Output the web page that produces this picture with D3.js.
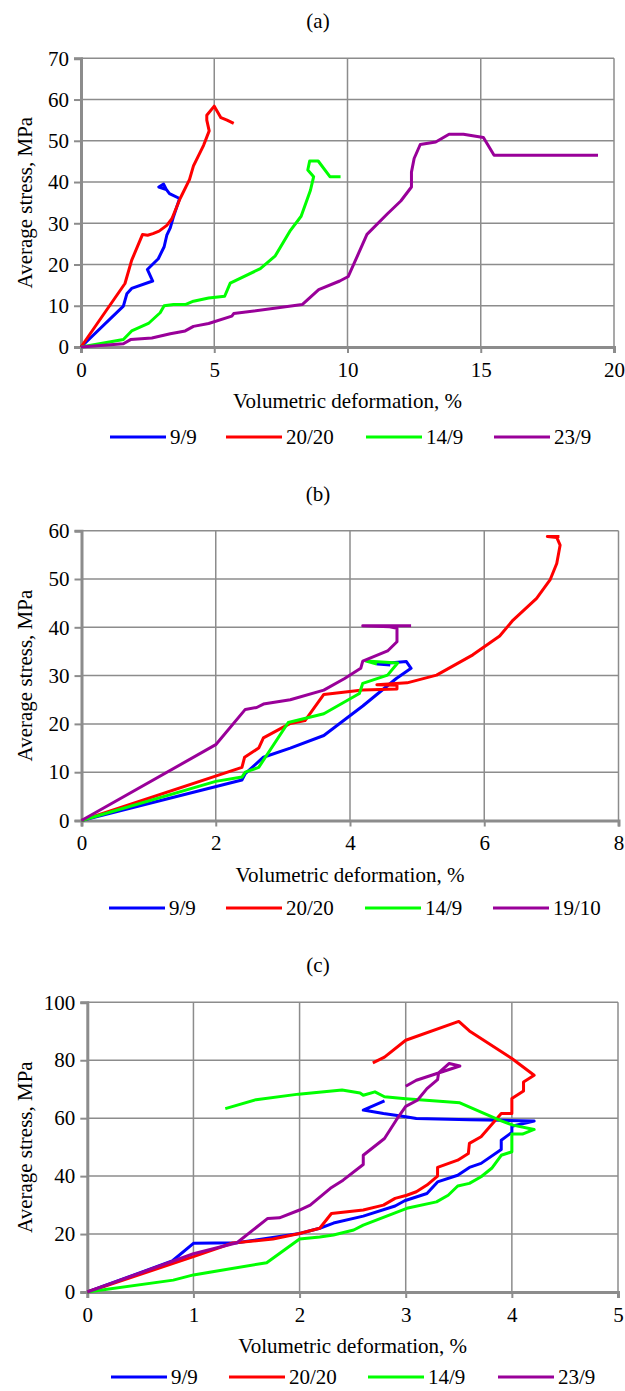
<!DOCTYPE html>
<html>
<head>
<meta charset="utf-8">
<script src="https://cdn.jsdelivr.net/npm/d3@7"></script>
<style>
  body { margin: 0; background: #fff; }
  text { font-family: "Liberation Serif", "Times New Roman", "DejaVu Serif", serif; fill: #000; }
</style>
</head>
<body>
<div id="chart"></div>
<script>
// Legend names and colours
var namesA = ["9/9", "20/20", "14/9", "23/9"];
var namesB = ["9/9", "20/20", "14/9", "19/10"];
var namesC = ["9/9", "20/20", "14/9", "23/9"];
var colors = ["#0000ff", "#ff0000", "#00ff00", "#990099"];

// Tick values
var xTicksA = [0, 5, 10, 15, 20];
var yTicksA = [0, 10, 20, 30, 40, 50, 60, 70];
var xTicksB = [0, 2, 4, 6, 8];
var yTicksB = [0, 10, 20, 30, 40, 50, 60];
var xTicksC = [0, 1, 2, 3, 4, 5];
var yTicksC = [0, 20, 40, 60, 80, 100];

// Panel (a): [volumetric deformation %, average stress MPa]
var a_9_9 = [[0,0],[1.59,9.9],[1.72,12.9],[1.9,14.2],[2.69,16],[2.49,18.8],[2.9,21.4],[3.12,24.3],[3.22,27.1],[3.35,28.9],[3.47,31.6],[3.7,36],[3.32,37.2],[3.2,38.2],[3.1,39.5],[2.92,38.8],[3.2,38.2]];
var a_20_20 = [[0,0],[1.65,15.4],[1.9,21],[2.31,27.3],[2.5,27.1],[2.7,27.5],[2.93,28.1],[3.22,29.5],[3.41,31.1],[3.72,36],[4.07,40.6],[4.22,43.9],[4.6,48.9],[4.81,52.4],[4.72,55],[4.72,56.2],[5.0,58.4],[5.25,55.6],[5.48,55],[5.73,54.2]];
var a_14_9 = [[0,0],[1.59,1.8],[1.9,3.9],[2.53,5.7],[2.97,8.3],[3.12,10],[3.47,10.3],[3.91,10.3],[4.22,11.1],[4.79,11.9],[5.39,12.3],[5.6,15.5],[6.73,19],[7.29,22.1],[7.86,28.3],[8.26,31.7],[8.61,38],[8.73,41.3],[8.51,42.9],[8.58,45.1],[8.9,45.1],[9.34,41.3],[9.74,41.3]];
var a_23_9 = [[0,0],[1.59,0.8],[1.86,1.8],[2.66,2.2],[3.35,3.2],[3.91,3.9],[4.22,5],[4.79,5.7],[5.66,7.5],[5.73,8.1],[8.3,10.3],[8.92,13.9],[9.71,16],[10.03,17.1],[10.73,27.3],[11.5,32.3],[12.0,35.4],[12.4,38.8],[12.4,42.4],[12.5,45.7],[12.73,49.1],[13.31,49.7],[13.81,51.6],[14.35,51.6],[15.1,50.8],[15.5,46.5],[19.4,46.5]];

// Panel (b)
var b_9_9 = [[0,0],[2.39,8.4],[2.44,9.7],[2.71,13.1],[3.11,15],[3.61,17.6],[4.19,23.7],[4.69,29.4],[4.91,31.5],[4.84,32.9],[4.41,32.4],[4.6,32.2]];
var b_20_20 = [[0,0],[2.39,11],[2.43,13.1],[2.64,15],[2.71,17.1],[3.11,20.1],[3.33,20.7],[3.61,26.1],[4.19,27],[4.7,27.2],[4.7,28],[4.4,28.1],[4.85,28.5],[5.29,30.1],[5.83,34.3],[6.23,38.2],[6.43,41.5],[6.78,46],[6.98,49.8],[7.08,53.2],[7.13,57],[7.08,58.6],[6.94,58.8],[7.12,58.8]];
var b_14_9 = [[0,0],[2.0,8.1],[2.39,9],[2.44,10],[2.64,11],[3.08,20.3],[3.61,22.1],[4.14,26.3],[4.19,28.4],[4.56,30.1],[4.71,32.6],[4.24,33],[4.4,32.4]];
var b_19_10 = [[0,0],[2.0,15.7],[2.44,23],[2.61,23.4],[2.71,24.1],[3.11,25],[3.61,27],[3.92,29.4],[4.16,31.5],[4.19,33],[4.56,35.1],[4.7,37],[4.7,39.8],[4.59,40.1],[4.19,40.3],[4.91,40.3]];

// Panel (c)
var c_9_9 = [[0,0],[0.8,10.7],[1.0,16.8],[1.41,17],[2.0,20.2],[2.19,22],[2.32,23.8],[2.6,26.2],[2.9,29.7],[2.99,31.5],[3.2,34],[3.3,38],[3.49,40.3],[3.6,43],[3.71,44.4],[3.9,49.2],[3.9,52.4],[4.0,55.1],[4.0,57.2],[4.21,59.0],[3.9,59.3],[3.6,59.5],[3.1,59.9],[3.0,60.5],[2.79,61.6],[2.6,62.8],[2.8,66]];
var c_20_20 = [[0,0],[1.0,12.2],[1.37,16.9],[1.75,18.3],[2.0,20.2],[2.19,22],[2.3,27.1],[2.6,28.3],[2.79,30],[2.9,32.3],[3.01,33.4],[3.1,34.6],[3.2,36.9],[3.3,40],[3.3,43],[3.49,45.5],[3.59,47.8],[3.6,51.3],[3.71,53.6],[3.9,61.6],[4.0,61.6],[4.0,66.8],[4.11,69.4],[4.11,72.5],[4.21,74.8],[4.0,80.6],[3.6,90.1],[3.5,93.4],[3.0,86.9],[2.8,81.1],[2.69,79.1]];
var c_14_9 = [[0,0],[0.81,4.1],[1.0,5.9],[1.69,10.1],[2.0,18.3],[2.19,19],[2.32,19.7],[2.51,21.4],[2.6,23.1],[2.9,27.3],[3.01,28.9],[3.29,31.1],[3.4,33.4],[3.49,36.6],[3.6,37.5],[3.71,39.8],[3.81,42.7],[3.9,47.2],[4.0,48.4],[4.0,54.5],[4.1,54.5],[4.21,56.1],[4.01,57.6],[3.9,59.1],[3.51,65.3],[3.0,66.7],[2.8,67.4],[2.71,69.1],[2.6,67.9],[2.57,68.7],[2.4,69.7],[1.99,68.3],[1.59,66.4],[1.3,63.3]];
var c_23_9 = [[0,0],[1.0,13.2],[1.41,17],[1.7,25.4],[1.81,25.6],[2.0,28.3],[2.1,30],[2.29,35.8],[2.41,38.6],[2.6,44],[2.6,47.2],[2.8,53],[2.91,59.3],[3.0,64.1],[3.11,66.2],[3.2,70.2],[3.3,73.3],[3.31,75.6],[3.41,78.9],[3.51,78],[3.1,73.1],[3.0,71]];

var W = 625, H = 1391;
var svg = d3.select("#chart").append("svg")
  .attr("width", W)
  .attr("height", H);

var panels = [
  {label: "(a)", left: 81, right: 614, top: 58.3, bottom: 347,
   xMax: 20, yMax: 70, xTicks: xTicksA, yTicks: yTicksA,
   series: [a_9_9, a_20_20, a_14_9, a_23_9], names: namesA,
   legendX: [110, 226, 366, 494], legendY: 437},
  {label: "(b)", left: 81.5, right: 618.5, top: 530.7, bottom: 820.5,
   xMax: 8, yMax: 60, xTicks: xTicksB, yTicks: yTicksB,
   series: [b_9_9, b_20_20, b_14_9, b_19_10], names: namesB,
   legendX: [109, 226, 365, 493], legendY: 908},
  {label: "(c)", left: 87.3, right: 618, top: 1002.3, bottom: 1292,
   xMax: 5, yMax: 100, xTicks: xTicksC, yTicks: yTicksC,
   series: [c_9_9, c_20_20, c_14_9, c_23_9], names: namesC,
   legendX: [111, 229, 368, 498], legendY: 1377}
];

panels.forEach(function(p) {
  var x = d3.scaleLinear().domain([0, p.xMax]).range([p.left, p.right]);
  var y = d3.scaleLinear().domain([0, p.yMax]).range([p.bottom, p.top]);
  var g = svg.append("g");

  // panel letter
  g.append("text")
    .attr("x", 318)
    .attr("y", p.top - 30)
    .attr("text-anchor", "middle")
    .attr("font-size", "21px")
    .text(p.label);

  // grid
  g.selectAll(".hgrid").data(p.yTicks.slice(1)).enter().append("line")
    .attr("x1", p.left).attr("x2", p.right)
    .attr("y1", d => y(d)).attr("y2", d => y(d))
    .attr("stroke", "#8c8c8c").attr("stroke-width", 1.5);
  g.selectAll(".vgrid").data(p.xTicks.slice(1)).enter().append("line")
    .attr("x1", d => x(d)).attr("x2", d => x(d))
    .attr("y1", p.top).attr("y2", p.bottom)
    .attr("stroke", "#8c8c8c").attr("stroke-width", 1.5);

  // axes
  var yAxis = d3.axisLeft(y).tickValues(p.yTicks).tickSize(7).tickPadding(5)
    .tickFormat(d3.format("d"));
  var xAxis = d3.axisBottom(x).tickValues(p.xTicks).tickSize(6).tickPadding(9)
    .tickFormat(d3.format("d"));

  var ya = g.append("g").attr("transform", `translate(${p.left},0)`).call(yAxis);
  var xa = g.append("g").attr("transform", `translate(0,${p.bottom})`).call(xAxis);
  [ya, xa].forEach(function(a) {
    a.attr("font-family", null);
    a.select(".domain").attr("stroke", "#8c8c8c").attr("stroke-width", 3);
    a.selectAll(".tick line").attr("stroke", "#8c8c8c").attr("stroke-width", 2);
    a.selectAll(".tick text")
      .attr("font-size", "21px")
      .attr("fill", "#000");
  });

  // data lines
  var line = d3.line().x(d => x(d[0])).y(d => y(d[1]));
  p.series.forEach(function(s, i) {
    g.append("path")
      .datum(s)
      .attr("d", line)
      .attr("fill", "none")
      .attr("stroke", colors[i])
      .attr("stroke-width", 3)
      .attr("stroke-linejoin", "round");
  });

  // axis titles
  g.append("text")
    .attr("x", (p.left + p.right) / 2)
    .attr("y", p.bottom + 61)
    .attr("text-anchor", "middle")
    .attr("font-size", "21px")
    .text("Volumetric deformation, %");

  g.append("text")
    .attr("transform", `translate(32,${(p.top + p.bottom) / 2}) rotate(-90)`)
    .attr("text-anchor", "middle")
    .attr("font-size", "21px")
    .text("Average stress, MPa");

  // legend
  var ly = p.legendY;
  p.names.forEach(function(n, i) {
    var lx = p.legendX[i];
    g.append("line")
      .attr("x1", lx).attr("x2", lx + 56)
      .attr("y1", ly).attr("y2", ly)
      .attr("stroke", colors[i]).attr("stroke-width", 3);
    g.append("text")
      .attr("x", lx + 60)
      .attr("y", ly + 7)
      .attr("font-size", "21px")
      .text(n);
  });
});
</script>
</body>
</html>
